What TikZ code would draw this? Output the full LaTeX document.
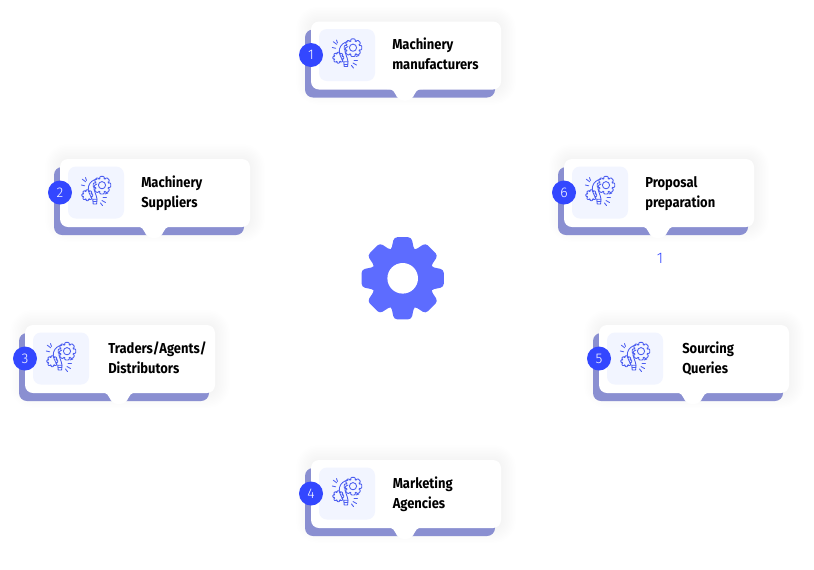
\documentclass[tikz,border=0pt]{standalone}
\usepackage{fontspec}
\setmainfont{Fira Sans}[FakeStretch=0.9]
\newfontfamily\numfont{Fira Sans Light}
\usetikzlibrary{positioning, calc}

\definecolor{backblue}{HTML}{8A8FD1}
\definecolor{gearblue}{HTML}{5D6CFF}
\definecolor{numblue}{HTML}{3347FF}
\definecolor{boxblue}{HTML}{F2F5FF}
\definecolor{iconblue}{HTML}{4A5CF0}

\tikzset{
  numdot/.style={circle, fill=numblue, text=white, minimum size=24*0.75pt, inner sep=0pt, font=\numfont\fontsize{10.5}{12}\selectfont},
  iconbox/.style={fill=boxblue, rounded corners=6pt},
  cardtext/.style={anchor=base west, inner sep=0pt, font=\bfseries\fontsize{10.8}{15}\selectfont},
  iconline/.style={draw=iconblue, line width=0.65pt, line cap=round, line join=round},
}

% gear outline round the current origin: outer radius, root radius
\newcommand{\gearpath}[2]{(-22:#2) \foreach \a in {0,45,...,315} { -- (\a-22:#2) -- (\a-12:#1) -- (\a+12:#1) -- (\a+22:#2) } -- cycle}

% bulb and gears, drawn round the middle of the box
\newcommand{\bulbicon}[1]{
  \begin{scope}[shift={(#1)}]
    \begin{scope}[shift={(6,-7.3)}]
      \draw[iconline, rounded corners=0.5pt] \gearpath{9}{6.8};
      \draw[iconline] (0,0) circle (3.6);
    \end{scope}
    \begin{scope}[shift={(-8.7,2.7)}]
      \draw[iconline, rounded corners=0.5pt] \gearpath{5.6}{4.2};
    \end{scope}
    \draw[iconline] (-4,6.7) .. controls (-5,3) and (-9,-1) .. (-7.5,-6) .. controls (-6.5,-10) and (-3,-13) .. (1,-13.3);
    \draw[iconline] (1,6.7) .. controls (0.5,2) and (-2.5,-2) .. (-2,-5) .. controls (-2,-7) and (-1,-8) .. (1,-8.5);
    \draw[iconline] (-3.2,6.7) -- (1,6.7) -- (0.6,11.5) -- (-2.8,11.5) -- cycle;
    \draw[iconline] (-3,9) -- (0.8,9);
    \draw[iconline] (-13.7,-13.3) -- (-10.3,-10.7);
    \draw[iconline] (-10.5,-15) -- (-9.5,-12);
    \draw[iconline] (-14.7,-7.5) -- (-11.3,-6.7);
    \draw[iconline] (7,5) -- (10.5,5);
    \draw[iconline] (6,8) -- (9.5,10);
    \draw[iconline] (4.5,10.5) -- (6.5,13);
    \draw[iconline] (9,1.5) -- (12,0.5);
  \end{scope}
}

% one card: name, left, top, number, text offset, first line, second line
\newcommand{\card}[7]{
  \coordinate (#1) at (#2,#3);
  \foreach \w in {3,6,...,30} {
    \draw[black, opacity=0.0035, line width=\w*0.75pt, rounded corners=6pt] (#1) rectangle ++(190,68);
  }
  \fill[backblue, rounded corners=6pt] ([shift={(-6,8)}]#1) rectangle ++(190,68);
  \fill[white, rounded corners=6pt] (#1) rectangle ++(190,68);
  \fill[white] ([shift={(76,67.5)}]#1) .. controls +(7,0) and +(-3,-5) .. ++(10,8) .. controls +(3,5) and +(-3,5) .. ++(16,0) .. controls +(3,-5) and +(-7,0) .. ++(10,-8) -- cycle;
  \fill[iconbox] ([shift={(8,7.5)}]#1) rectangle ++(56,52) coordinate (#1box);
  \node[numdot] (#1num) at ([shift={(0,33.5)}]#1) {#4};
  \node[cardtext] (#1top) at ([shift={(#5,28)}]#1) {#6};
  \node[cardtext] (#1bot) at ([shift={(#5,48)}]#1) {#7};
  \bulbicon{$(#1)+(36,33.5)$}
}

\begin{document}
\begin{tikzpicture}[x=0.75pt, y=-0.75pt]
\useasboundingbox (0,0) rectangle (814,569);
\fill[white] (0,0) rectangle (814,569);

\card{manufact}{311}{21.5}{1}{81}{Machinery}{manufacturers}
\card{suppliers}{60}{159}{2}{81}{Machinery}{Suppliers}
\card{traders}{25}{325}{3}{83}{Traders/Agents/}{Distributors}
\card{marketing}{311}{460}{4}{81.5}{Marketing}{Agencies}
\card{sourcing}{599}{325}{5}{83}{Sourcing}{Queries}
\card{proposal}{564}{159}{6}{81}{Proposal}{preparation}

\node[text=numblue, inner sep=0pt, font=\numfont\fontsize{11.5}{12}\selectfont] (extra) at (660,258) {1};

\coordinate (gear) at (402.7,278.3);
\begin{scope}[shift={(gear)}]
  \fill[gearblue, rounded corners=2.5pt] \gearpath{42}{30.5};
  \fill[white] (0,0) circle (15.3);
\end{scope}
\end{tikzpicture}
\end{document}
